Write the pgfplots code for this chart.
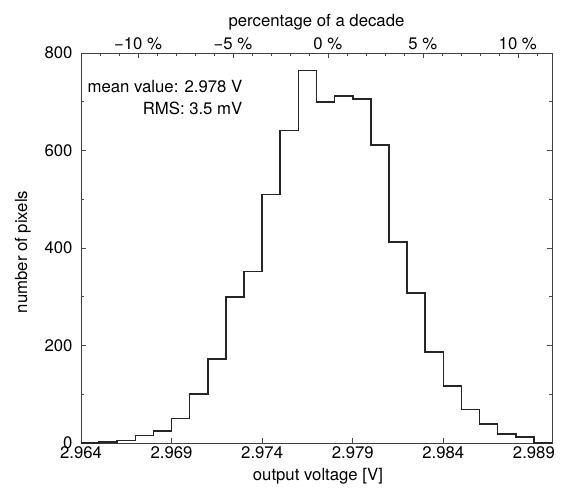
\documentclass[border=0pt]{standalone}
\usepackage{fontspec}
\setmainfont{TeX Gyre Heros}
\usepackage{pgfplots}
\pgfplotsset{compat=1.18}

\begin{document}
\begin{tikzpicture}[font=\fontsize{16.8}{20}\selectfont]
% page = 561 x 489 bp, axis box south west at (0,0)
\path (-81bp,-46bp) rectangle (480bp,443bp);

\begin{axis}[
  scale only axis,
  width=471bp, height=390bp,
  xmin=2.964, xmax=2.990,
  ymin=0, ymax=800,
  scaled x ticks=false,
  xtick={2.964,2.969,2.974,2.979,2.984,2.989},
  xticklabels={2.964,2.969,2.974,2.979,2.984,2.989},
  xtick pos=left,
  ytick={0,200,400,600,800},
  yticklabels={0,200,400,600,800},
  minor ytick={100,300,500,700},
  ytick pos=both,
  tick align=inside,
  major tick length=5bp,
  minor tick length=3bp,
  tick style={black!70, line width=0.6bp},
  axis line style={black!75, line width=0.8bp},
  yticklabel style={xshift=-5bp},
  xlabel={output voltage [V]},
  xlabel style={at={(axis description cs:0.503,0)}, anchor=base, yshift=-37bp},
  ylabel={number of pixels},
  ylabel style={at={(axis description cs:-0.1146,0.49)}, anchor=base, rotate=0},
]
\addplot[const plot mark left, black!85, line width=1.6bp] coordinates {
  (2.964,0) (2.965,2) (2.966,5) (2.967,15) (2.968,25) (2.969,50)
  (2.970,100) (2.971,172) (2.972,300) (2.973,352) (2.974,510)
  (2.975,641) (2.976,764) (2.977,699) (2.978,712) (2.979,706)
  (2.980,611) (2.981,412) (2.982,308) (2.983,187) (2.984,117)
  (2.985,69) (2.986,39) (2.987,18) (2.988,12) (2.989,0) (2.990,0)
};
\node[anchor=base east] at (axis cs:2.9731,720) {mean value: 2.978 V};
\node[anchor=base east] at (axis cs:2.9731,673) {RMS: 3.5 mV};
\end{axis}

% top scale: percentage of a decade
\begin{axis}[
  scale only axis,
  width=471bp, height=390bp,
  xmin=-13, xmax=11.8,
  ymin=0, ymax=1,
  axis x line*=top,
  hide y axis,
  xtick={-10,-5,0,5,10},
  xticklabels={−10 \%,−5 \%,0 \%,5 \%,10 \%},
  minor xtick={-12,-11,...,11},
  tick align=inside,
  major tick length=5bp,
  minor tick length=3bp,
  tick style={black!70, line width=0.6bp},
  axis line style={black!75, line width=0.8bp},
  xlabel={percentage of a decade},
  xlabel style={at={(axis description cs:0.5,1)}, anchor=base, yshift=26bp},
]
\end{axis}
\end{tikzpicture}
\end{document}
